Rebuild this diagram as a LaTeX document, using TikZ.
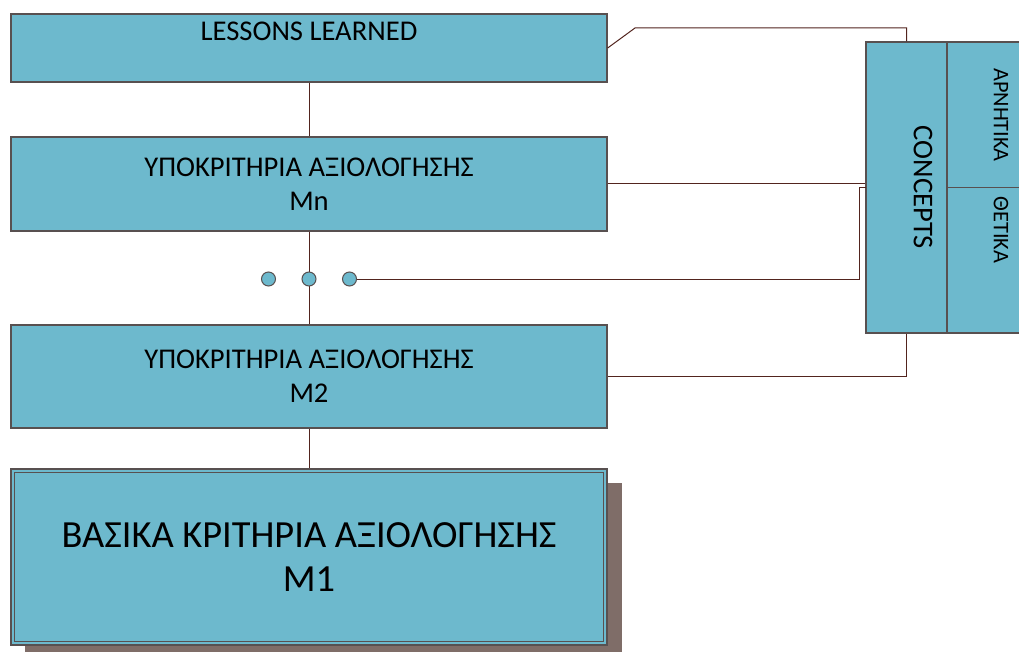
\documentclass[tikz,border=0pt]{standalone}
\usepackage{fontspec}
\setmainfont{Carlito}
\usetikzlibrary{calc}
\definecolor{boxfill}{RGB}{109,185,205}
\definecolor{boxline}{RGB}{88,80,80}
\definecolor{wire}{RGB}{82,36,30}
\definecolor{shadowc}{RGB}{127,109,104}
\begin{document}
\begin{tikzpicture}[x=1pt,y=-1pt,
  panel/.style={draw=boxline,fill=boxfill,line width=1.3pt,inner sep=0pt,
    align=center,font=\fontsize{28.6}{34}\selectfont},
  bigpanel/.style={panel,font=\fontsize{38.4}{44}\selectfont},
  sidepanel/.style={draw=boxline,fill=boxfill,line width=1.3pt,inner sep=0pt},
  sidetext/.style={rotate=-90,inner sep=0pt,font=\fontsize{22.3}{26}\selectfont},
  dot/.style={circle,draw=boxline,fill=boxfill,line width=1pt,minimum size=14pt,inner sep=0pt},
  link/.style={draw=wire,line width=1pt}]
\useasboundingbox (0,0) rectangle (1019,652);

% main column of panels
\node[panel,minimum width=596pt,minimum height=68pt] (lessons) at (309,48) {};
\node[inner sep=0pt,font=\fontsize{28.6}{34}\selectfont] (lessonsText) at (309,31) {LESSONS LEARNED};
\node[panel,minimum width=596pt,minimum height=94pt] (mn) at (309,184) {ΥΠΟΚΡΙΤΗΡΙΑ ΑΞΙΟΛΟΓΗΣΗΣ\\Mn};
\node[panel,minimum width=596pt,minimum height=103pt] (m2) at (309,376.5) {ΥΠΟΚΡΙΤΗΡΙΑ ΑΞΙΟΛΟΓΗΣΗΣ\\M2};

% base panel with drop shadow and double border
\fill[shadowc] (25,483) rectangle (622,659);
\node[bigpanel,minimum width=596pt,minimum height=176pt] (m1) at (309,557) {ΒΑΣΙΚΑ ΚΡΙΤΗΡΙΑ ΑΞΙΟΛΟΓΗΣΗΣ\\M1};
\draw[boxline,line width=1.3pt] ($(m1.north west)+(4,4)$) rectangle ($(m1.south east)+(-4,-4)$);

% concepts block
\node[sidepanel,minimum width=81pt,minimum height=291pt] (concepts) at (906.5,187.5) {};
\node[sidetext,font=\fontsize{28.6}{34}\selectfont] (conceptsText) at (923,187.5) {CONCEPTS};
\node[sidepanel,minimum width=108pt,minimum height=145.5pt] (neg) at (1001,114.75) {};
\node[sidepanel,minimum width=108pt,minimum height=145.5pt] (pos) at (1001,260.25) {};
\node[sidetext] (negText) at (1001,115) {ΑΡΝΗΤΙΚΑ};
\node[sidetext] (posText) at (1001,230) {ΘΕΤΙΚΑ};

% vertical spine
\draw[link] (lessons.south) -- (mn.north);
\draw[link] (mn.south) -- (m2.north);
\draw[link] (m2.south) -- (m1.north);

% ellipsis dots
\node[dot] (d1) at (268.5,279) {};
\node[dot] (d2) at (309,279) {};
\node[dot] (d3) at (349.5,279) {};

% links to the concepts block
\coordinate (bend) at (635,28);
\draw[link] (lessons.east) -- (bend) -| (concepts.north);
\draw[link] (mn.east) -- (mn.east -| concepts.west);
\coordinate (riser) at (859,279);
\coordinate (entry) at (866,188);
\draw[link] (d3.east) -- (riser) |- (entry);
\draw[link] (concepts.south) |- (m2.east);
\end{tikzpicture}
\end{document}
